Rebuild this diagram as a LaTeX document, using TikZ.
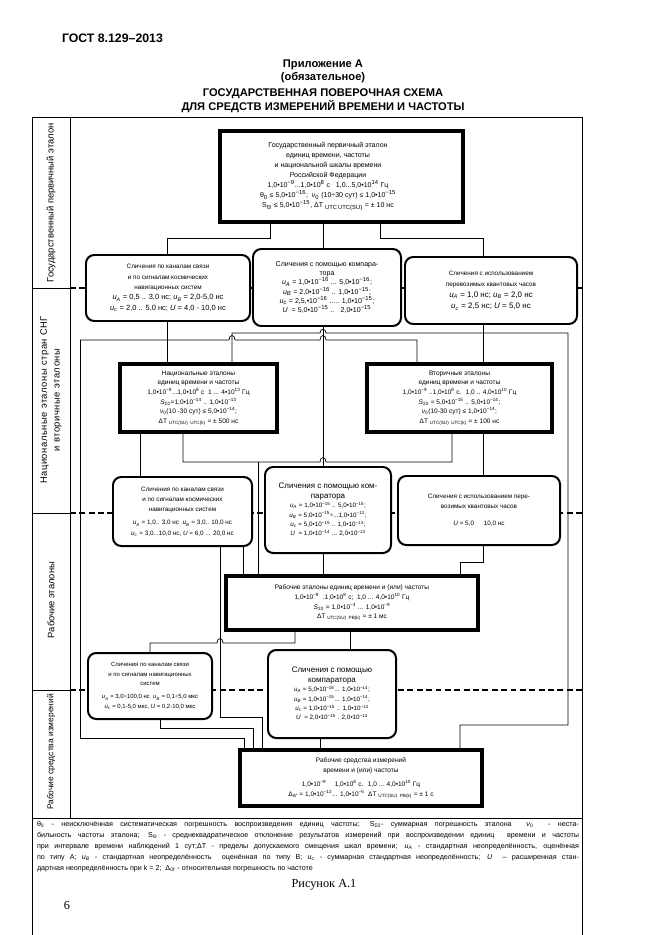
\documentclass[tikz,border=0pt]{standalone}
\usepackage{fontspec}
\setmainfont{Liberation Sans}
\newfontfamily\tnr{Liberation Serif}
\usetikzlibrary{calc}
\newcommand\ex[1]{\textsuperscript{#1}}
\newcommand\ix[1]{\textsubscript{#1}}
\newcommand\uu[1]{\textit{u}\textsubscript{\textit{#1}}}
\newcommand\fs[2]{\fontsize{#1}{#2}\selectfont}
\begin{document}
\begin{tikzpicture}[x=0.03cm,y=-0.03cm,
  every node/.style={inner sep=0pt,outer sep=0pt},
  tbox/.style={draw,line width=2.8pt,fill=white,align=center,font=\fs{5.8}{8.4}},
  rbox/.style={draw,line width=1.7pt,rounded corners=7pt,fill=white,align=center,font=\fs{5.8}{8.4}},
  conn/.style={line width=0.6pt},
  frameline/.style={line width=0.7pt},
  sepd/.style={line width=0.9pt,dash pattern=on 5pt off 3pt},
  lab/.style={rotate=90,align=center,font=\fs{8}{11}},
  head/.style={font=\bfseries\fs{9.5}{11}},
]
\useasboundingbox (0,0) rectangle (661,935);
% header
\node[anchor=west,font=\bfseries\fs{10.5}{12}] (gost) at (62,38) {ГОСТ 8.129–2013};
\node[head] (h1) at (323,65) {Приложение А};
\node[head] (h2) at (323,78) {(обязательное)};
\node[head] (h3) at (323,94) {ГОСУДАРСТВЕННАЯ ПОВЕРОЧНАЯ СХЕМА};
\node[head] (h4) at (323,107) {ДЛЯ СРЕДСТВ ИЗМЕРЕНИЙ ВРЕМЕНИ И ЧАСТОТЫ};
% frame
\draw[frameline] (32,935) -- (32,117) -- (582,117) -- (582,935);
\draw[frameline] (70,117) -- (70,818);
\draw[frameline] (32,818) -- (582,818);
\foreach \yy in {288,513,690}{
  \draw[frameline] (32,\yy) -- (70,\yy);
  \draw[sepd] (70,\yy) -- (582,\yy);
}
% left labels
\node[lab] (L1) at (51,203) {Государственный первичный эталон};
\node[lab] (L2) at (51,400) {\addfontfeatures{LetterSpace=6}Национальные эталоны стран СНГ\\\addfontfeatures{LetterSpace=6}и вторичные эталоны};
\node[lab] (L3) at (51,600) {Рабочие эталоны};
\node[lab,font=\fs{7.2}{10}] (L4) at (51,752) {Рабочие средства измерений};
% boxes
\node[tbox,minimum width=7.29cm,minimum height=2.73cm] (T) at (341.5,176.5) {};
\node[align=center,font=\fs{6}{8.5}] (Ttext) at (328,176.5) {%
Государственный первичный эталон\\
единиц времени, частоты\\
и национальной шкалы времени\\
Российской Федерации\\
1,0•10\ex{−9}...1,0•10\ex{8} с \ \ 1,0...5,0•10\ex{14} Гц\\
θ\ix{0} ≤ 5,0•10\ex{−16}; \ \textit{ν}\ix{0} (10÷30 сут) ≤ 1,0•10\ex{−15}\\
S\ix{Θ} ≤ 5,0•10\ex{−15}, ΔT \ix{UTC\,UTC(SU)} = ± 10 нс};
\node[rbox,minimum width=4.92cm,minimum height=1.98cm,font=\fs{5.4}{8.8}] (R2L) at (168,288) {%
Сличения по каналам связи\\
и по сигналам космических\\
навигационных систем\\
{\fs{6.4}{9}\uu{A} = 0,5 .. 3,0 нс; \uu{B} = 2,0-5,0 нс}\\
{\fs{6.4}{9}\uu{c} = 2,0 .. 5,0 нс; \textit{U} = 4,0 - 10,0 нс}};
\node[rbox,minimum width=4.44cm,minimum height=2.31cm,font=\fs{6}{7.8}] (R2M) at (327,287.5) {%
Сличения с помощью компара-\\
тора\\
\uu{A} = 1,0•10\ex{−16} ... 5,0•10\ex{−16};\\
\uu{B} = 2,0•10\ex{−16} .. 1,0•10\ex{−15};\\
\uu{c} = 2,5,•10\ex{−16} ..... 1,0•10\ex{−15};\\
\textit{U} \ = 5,0•10\ex{−15} .. \ \ 2,0•10\ex{−15}};
\node[rbox,minimum width=5.16cm,minimum height=2.01cm,font=\fs{5.4}{9.6}] (R2R) at (491,290.5) {%
Сличения с использованием\\
перевозимых квантовых часов\\
{\fs{6.8}{9}\uu{A} = 1,0 нс; \uu{B} = 2,0 нс}\\
{\fs{6.8}{9}\uu{c} = 2,5 нс; \textit{U} = 5,0 нс}};
\node[tbox,minimum width=4.71cm,minimum height=2.04cm,font=\fs{5.6}{8.2}] (R3N) at (198.5,398) {%
Национальные эталоны\\
единиц времени и частоты\\
1,0•10\ex{−9}...1,0•10\ex{8} с \ 1 ... 4•10\ex{13} Гц\\
\textit{S}\ix{Σ0}=1,0•10\ex{−14} .. 1,0•10\ex{−13}\\
\textit{ν}\ix{0}(10 -30 сут) ≤ 5,0•10\ex{−14};\\
ΔT \ix{UTC(SU)\ \ UTC(k)} = ± 500 нс};
\node[tbox,minimum width=5.55cm,minimum height=2.04cm,font=\fs{5.6}{8.2}] (R3S) at (459.5,398) {%
Вторичные эталоны\\
единиц времени и частоты\\
1,0•10\ex{−9} ..1,0•10\ex{8} с. \ 1,0 .. 4,0•10\ex{10} Гц\\
\textit{S}\ix{Σ0} = 5,0•10\ex{−15} .. 5,0•10\ex{−14};\\
\textit{ν}\ix{0}(10-30 сут) ≤ 1,0•10\ex{−14};\\
ΔT \ix{UTC(SU)\ \ UTC(k)} = ± 100 нс};
\node[rbox,minimum width=4.17cm,minimum height=2.07cm,font=\fs{5.4}{8.6}] (R4L) at (182.5,511.5) {%
Сличения по каналам связи\\
и по сигналам космических\\
навигационных систем\\[3pt]
\uu{A} = 1,0.. 3,0 нс \ \uu{B} = 3,0.. 10,0 нс\\
\uu{c} = 3,0...10,0 нс, \textit{U} = 6,0 ... 20,0 нс};
\node[rbox,minimum width=3.78cm,minimum height=2.58cm,font=\fs{5.4}{8}] (R4M) at (328,510) {%
{\fs{6.8}{9}Сличения с помощью ком-}\\
{\fs{6.8}{9}паратора}\\
\uu{A} = 1,0•10\ex{−15} .. 5,0•10\ex{−15};\\
\uu{B} = 5,0•10\ex{−15}÷...1,0•10\ex{−13};\\
\uu{c} = 5,0•10\ex{−15} .. 1,0•10\ex{−13};\\
\textit{U} \ = 1,0•10\ex{−14} ... 2,0•10\ex{−13}};
\node[rbox,minimum width=4.86cm,minimum height=2.07cm,font=\fs{5.4}{8.6}] (R4R) at (479,510.5) {%
Сличения с использованием пере-\\
возимых квантовых часов\\[6pt]
\textit{U} = 5,0 \quad\ 10,0 нс};
\node[tbox,minimum width=7.56cm,minimum height=1.62cm,font=\fs{5.6}{8.2}] (R5) at (352,603) {%
Рабочие эталоны единиц времени и (или) частоты\\
1,0•10\ex{−9} \ .1,0•10\ex{8} с; \ 1,0 ... 4,0•10\ex{10} Гц\\
\textit{S}\ix{Σ0} = 1,0•10\ex{−3} ... 1,0•10\ex{−9}\\
ΔT \ix{UTC(SU)\ \ РВ(k)} = ± 1 мс};
\node[rbox,minimum width=3.72cm,minimum height=1.98cm,font=\fs{5.1}{8.2}] (R6L) at (150,686) {%
Сличения по каналам связи\\
и по сигналам навигационных\\
систем\\[3pt]
\uu{A} = 3,0÷100,0 нс \ \uu{B} = 0,1÷5,0 мкс\\
\uu{c} = 0,1-5,0 мкс, \textit{U} = 0,2-10,0 мкс};
\node[rbox,minimum width=3.84cm,minimum height=2.64cm,font=\fs{5.4}{8}] (R6M) at (332,694) {%
{\fs{6.8}{9}Сличения с помощью}\\
{\fs{6.8}{9}компаратора}\\
\uu{A} = 5,0•10\ex{−16}... 1,0•10\ex{−14};\\
\uu{B} = 1,0•10\ex{−15}... 1,0•10\ex{−14};\\
\uu{c} = 1,0•10\ex{−15} .. 1,0•10\ex{−14}\\
\textit{U} \ = 2,0•10\ex{−15} . 2,0•10\ex{−14}};
\node[tbox,minimum width=7.26cm,minimum height=1.68cm,font=\fs{5.6}{8.2}] (R7) at (361,778) {%
Рабочие средства измерений\\
времени и (или) частоты\\[4pt]
1,0•10\ex{−9} \quad 1,0•10\ex{8} с. \ 1,0 ... 4,0•10\ex{10} Гц\\
Δ\ix{0\textit{f}} = 1,0•10\ex{−12}... 1,0•10\ex{−5} \ ΔT \ix{UTC(SU)\ \ РВ(k)} = ± 1 с};
% helper coordinates
\coordinate (lb) at (80,340);
\coordinate (mid462) at (258,462);
% connectors: top to row 2
\draw[conn] (270,0 |- T.south) -- (270,238) -| (167,0 |- R2L.north);
\draw[conn] (323,0 |- T.south) -- (323,0 |- R2M.north);
\draw[conn] (380,0 |- T.south) -- (380,238) -| (483,0 |- R2R.north);
% row 2 to row 3
\draw[conn] (167,0 |- R2L.south) -- (167,0 |- R3N.north);
\draw[conn] (lb) -- (229,340) .. controls (229,334) and (235,334) .. (235,340)
   -- (320,340) .. controls (320,334) and (326,334) .. (326,340) -- (417,340) -- (417,0 |- R3S.north);
\draw[conn] (lb) -- (80,738) -| (244,0 |- R7.north);
\draw[conn] (323,0 |- R2M.south) -- (323,0 |- R4M.north);
\draw[conn] (483,0 |- R2R.south) -- (483,0 |- R3S.north);
\draw[conn] (232,0 |- R3N.north) -- (232,333) -- (320,333) .. controls (320,328) and (326,328) .. (326,333)
   -- (568,333) -- (568,725) -| (460,0 |- R7.north);
% row 3 to row 4
\draw[conn] (140,0 |- R3N.south) -- (140,0 |- R4L.north);
\draw[conn] (183,0 |- R3N.south) -- (183,462) -- (320,462) .. controls (320,456) and (326,456) .. (326,462)
   -- (452,462) -- (452,0 |- R3S.south);
\draw[conn] (mid462) -- (258,0 |- R5.north);
\draw[conn] (483,0 |- R3S.south) -- (483,0 |- R4R.north);
% row 4 to row 5
\draw[conn] (243,0 |- R4L.south) -- (243,0 |- R5.north);
\draw[conn] (323,0 |- R4M.south) -- (323,0 |- R5.north);
\draw[conn] (483,0 |- R4R.south) -- (483,562) -| (460,0 |- R5.north);
\draw[conn] (220,0 |- R4L.south) -- (220,717) -| (262,0 |- R7.north);
% row 5 to row 6
\draw[conn] (295,0 |- R5.south) -- (295,643) -- (223,643) .. controls (223,637) and (217,637) .. (217,643)
   -| (150,0 |- R6L.north);
\draw[conn] (350,0 |- R5.south) -- (350,0 |- R6M.north);
% row 6 to row 7
\draw[conn] (160,0 |- R6L.south) -- (160,728) -| (253,0 |- R7.north);
\draw[conn] (320,0 |- R6M.south) -- (320,0 |- R7.north);
% footer
\node[anchor=north west,font=\fs{6.1}{9.4}] (foot) at (37,821) {\parbox{16.26cm}{%
θ\ix{0} - неисключённая систематическая погрешность воспроизведения единиц частоты; S\ix{Σ0}- суммарная погрешность эталона \ \textit{ν}\ix{0} \ - неста-\linebreak
бильность частоты эталона; S\ix{Θ} - среднеквадратическое отклонение результатов измерений при воспроизведении единиц \ времени и частоты\linebreak
при интервале времени наблюдений 1 сут;ΔT - пределы допускаемого смещения шкал времени; \uu{A} - стандартная неопределённость, оценённая\linebreak
по типу А; \uu{B} - стандартная неопределённость \ оценённая по типу В; \uu{c} - суммарная стандартная неопределённость; \textit{U} \ – расширенная стан-\linebreak
дартная неопределённость при k = 2; \ Δ\ix{0\textit{f}} - относительная погрешность по частоте}};
\node[font=\tnr\fs{10.5}{12}] (fig) at (324,885) {Рисунок А.1};
\node[font=\tnr\fs{10.5}{12}] (pg) at (67,905) {6};
\end{tikzpicture}
\end{document}
